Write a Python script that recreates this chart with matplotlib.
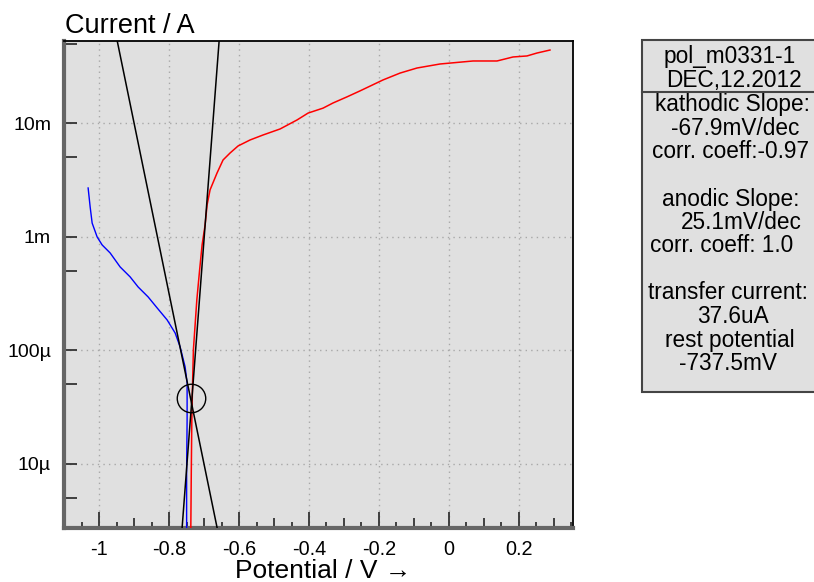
import numpy as np
import matplotlib
matplotlib.use("Agg")
import matplotlib.pyplot as plt
import matplotlib.transforms as mtrans
from matplotlib.patches import Rectangle
from matplotlib.lines import Line2D
from matplotlib.ticker import FixedLocator, NullFormatter

plt.rcParams['font.family'] = ['Liberation Sans', 'DejaVu Sans']
plt.rcParams['axes.unicode_minus'] = False

# ---------------- data ----------------
# anodic branch (red)
red_V = [-0.7382, -0.7368, -0.7353, -0.7336, -0.7308, -0.7210, -0.7130, -0.7059,
         -0.6973, -0.6916, -0.6831, -0.6631, -0.6459, -0.6259, -0.6030, -0.5685,
         -0.5313, -0.4827, -0.4341, -0.4026, -0.3597, -0.3311, -0.2910, -0.2538,
         -0.1880, -0.1393, -0.0907, -0.0249, 0.0695, 0.1382, 0.1840, 0.2240,
         0.2526, 0.2898]
red_I = [2.70e-6, 8.81e-6, 2.43e-5, 4.47e-5, 1.01e-4, 2.77e-4, 5.10e-4, 8.48e-4,
         1.27e-3, 1.91e-3, 2.59e-3, 3.65e-3, 4.75e-3, 5.47e-3, 6.31e-3, 7.13e-3,
         7.89e-3, 8.91e-3, 1.07e-2, 1.23e-2, 1.36e-2, 1.51e-2, 1.71e-2, 1.93e-2,
         2.41e-2, 2.77e-2, 3.07e-2, 3.33e-2, 3.54e-2, 3.54e-2, 3.84e-2, 3.92e-2,
         4.16e-2, 4.42e-2]

# cathodic branch (blue)
blue_V = [-1.0321, -1.0263, -1.0206, -1.0063, -0.9920, -0.9691, -0.9405, -0.9119,
          -0.8890, -0.8604, -0.8346, -0.8060, -0.7831, -0.7688, -0.7545, -0.7488,
          -0.7488, -0.7502, -0.7502]
blue_I = [2.69e-3, 1.83e-3, 1.32e-3, 9.96e-4, 8.47e-4, 7.20e-4, 5.42e-4, 4.43e-4,
          3.61e-4, 2.95e-4, 2.36e-4, 1.85e-4, 1.42e-4, 1.07e-4, 7.13e-5, 5.15e-5,
          2.43e-5, 8.81e-6, 2.70e-6]

# Tafel fit lines (end points)
cath_line_V = [-0.9488, -0.6630]
cath_line_I = [5.31e-2, 2.73e-6]
anod_line_V = [-0.6572, -0.7631]
anod_line_I = [5.31e-2, 2.73e-6]

# corrosion point
rest_potential = -0.7375
transfer_current = 37.6e-6

x_major = [-1.0, -0.8, -0.6, -0.4, -0.2, 0.0, 0.2]
x_major_labels = ['-1', '-0.8', '-0.6', '-0.4', '-0.2', '0', '0.2']
x_mid = [-0.9, -0.7, -0.5, -0.3, -0.1, 0.1, 0.3]
x_small = [-1.05, -0.95, -0.85, -0.75, -0.65, -0.55, -0.45, -0.35, -0.25,
           -0.15, -0.05, 0.05, 0.15, 0.25, 0.35]
y_major = [1e-5, 1e-4, 1e-3, 1e-2]
y_major_labels = ['10µ', '100µ', '1m', '10m']
y_minor = [5e-6, 5e-5, 5e-4, 5e-3, 5e-2]

info_header = ['pol_m0331-1', 'DEC,12.2012']
info_lines = ['kathodic Slope:', '-67.9mV/dec', 'corr. coeff:-0.97', '',
              'anodic Slope:', '25.1mV/dec', 'corr. coeff: 1.0', '',
              'transfer current:', '37.6uA', 'rest potential', '-737.5mV']

# ---------------- figure ----------------
W, H = 814, 582
fig = plt.figure(figsize=(W / 100, H / 100), dpi=100)
fig.patch.set_facecolor('white')

def fx(px):
    return px / W

def fy(py):
    return 1 - py / H

ax_l, ax_r, ax_t, ax_b = 63.5, 573, 41, 527.7
ax = fig.add_axes([fx(ax_l), fy(ax_b), fx(ax_r - ax_l), (ax_b - ax_t) / H])
ax.set_facecolor('#e0e0e0')
ax.set_yscale('log')
ax.set_xlim(-1.1026, 0.3557)
ax.set_ylim(2.73e-6, 5.31e-2)

# grid
for xv in x_major:
    ax.axvline(xv, color='#a8a8a8', lw=1.0, ls=(0, (1, 3)), zorder=1)
for yv in y_major:
    ax.axhline(yv, color='#a8a8a8', lw=1.0, ls=(0, (1, 3)), zorder=1)

# curves
ax.plot(red_V, red_I, color='#ff0000', lw=1.1, zorder=3)
ax.plot(blue_V, blue_I, color='#0000ff', lw=1.0, zorder=3)
ax.plot(cath_line_V, cath_line_I, color='black', lw=1.1, zorder=4)
ax.plot(anod_line_V, anod_line_I, color='black', lw=1.1, zorder=4)
ax.plot([rest_potential], [transfer_current], marker='o', ms=20.5,
        mfc='none', mec='black', mew=1.0, zorder=5)

# ticks
ax.xaxis.set_major_locator(FixedLocator(x_major))
ax.set_xticklabels(x_major_labels)
ax.xaxis.set_minor_locator(FixedLocator(x_mid))
ax.xaxis.set_minor_formatter(NullFormatter())
ax.yaxis.set_major_locator(FixedLocator(y_major))
ax.set_yticklabels(y_major_labels)
ax.yaxis.set_minor_locator(FixedLocator(y_minor))
ax.yaxis.set_minor_formatter(NullFormatter())

ax.tick_params(axis='x', which='major', direction='in', length=11.5, width=1.3,
               color='#333333', labelsize=14.3, pad=8.5, top=False)
ax.tick_params(axis='x', which='minor', direction='in', length=7.5, width=1.3,
               color='#333333', top=False)
ax.tick_params(axis='y', which='major', direction='in', length=9.5, width=1.3,
               color='#333333', labelsize=14.0, pad=9, right=False)
ax.tick_params(axis='y', which='minor', direction='in', length=9.5, width=1.3,
               color='#333333', right=False)
for lab in ax.get_xticklabels() + ax.get_yticklabels():
    lab.set_color('black')

# small x ticks
trans = mtrans.blended_transform_factory(ax.transData, ax.transAxes)
ax.vlines(x_small, 0, 5.5 / (ax_b - ax_t), transform=trans, color='#333333',
          lw=1.3, zorder=2, clip_on=False)

# spines
for s in ['top', 'right']:
    ax.spines[s].set_color('black')
    ax.spines[s].set_linewidth(1.3)
for s in ['left', 'bottom']:
    ax.spines[s].set_color('#666666')
    ax.spines[s].set_linewidth(3.0)

# labels
fig.text(fx(65), fy(32.7), 'Current / A', fontsize=19.5, ha='left',
         va='baseline', color='black')
fig.text(fx(323.5), fy(578.5), 'Potential / V \u2192', fontsize=19, ha='center',
         va='baseline', color='black')

# info box
box_l, box_t, box_b = 642, 40, 392
fig.patches.append(Rectangle((fx(box_l), fy(box_b)), fx(W - box_l + 20),
                             (box_b - box_t) / H, transform=fig.transFigure,
                             facecolor='#e0e0e0', edgecolor='#444444', lw=1.5,
                             zorder=1))
fig.lines.append(Line2D([fx(box_l), fx(W + 5)], [fy(91.7), fy(91.7)],
                        transform=fig.transFigure, color='#444444', lw=1.5))

header_y = [62.7, 86.7]
header_x = [729.5, 733.5]
for t, yb, xc in zip(info_header, header_y, header_x):
    fig.text(fx(xc), fy(yb), t, fontsize=16.3, ha='center', va='baseline',
             color='black')

line_x = [732, 735, 730, 730, 731, 741, 722, 730, 728, 733, 730, 727.5]
y0, dy = 111.5, 23.5
for i, (t, xc) in enumerate(zip(info_lines, line_x)):
    if t:
        fig.text(fx(xc), fy(y0 + i * dy), t, fontsize=16.3, ha='center',
                 va='baseline', color='black')

fig.savefig('out.png', dpi=100)
